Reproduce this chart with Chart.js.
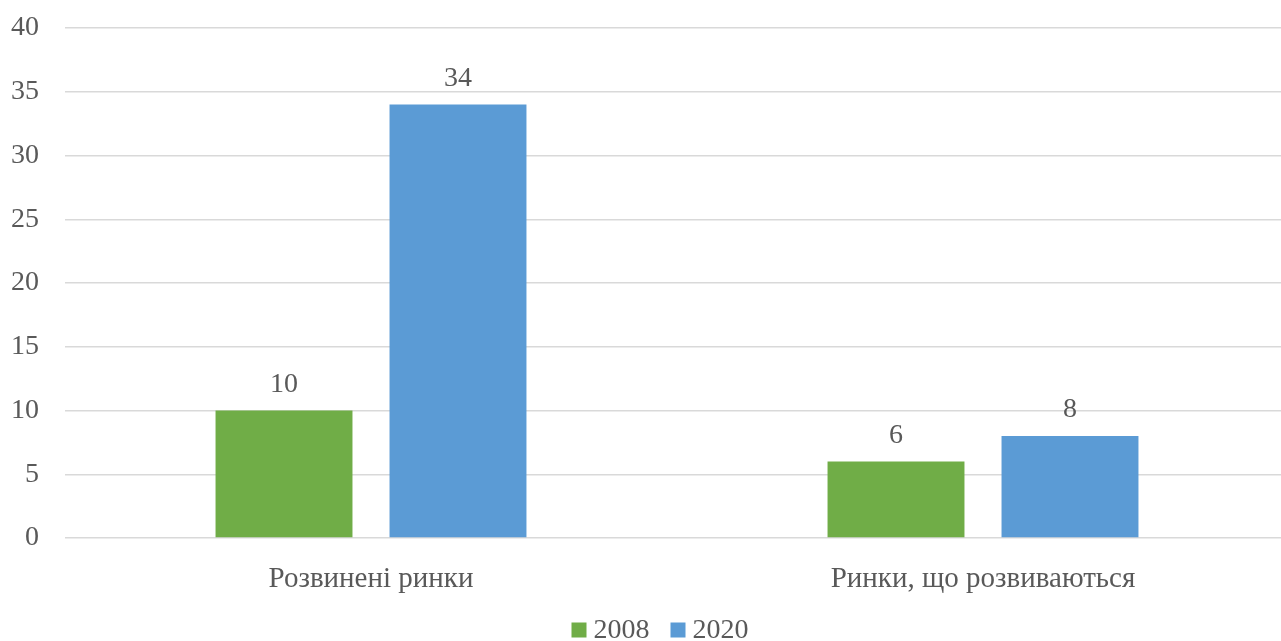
<!DOCTYPE html>
<html><head><meta charset="utf-8">
<script src="https://cdn.jsdelivr.net/npm/chart.js@4"></script>
<style>html,body{margin:0;padding:0;background:#fff;overflow:hidden}#w{width:1289px;height:641px}</style>
</head><body><div id="w"><canvas id="c"></canvas></div>
<script>
const categories = ["Розвинені ринки", "Ринки, що розвиваються"];
const series2008 = [10, 6];
const series2020 = [34, 8];
const seriesNames = ["2008", "2020"];
const yTicks = [0, 5, 10, 15, 20, 25, 30, 35, 40];

const FONT = "'Liberation Serif', 'Times New Roman', serif";
const TXT = '#595959';

const valueLabels = {
  id: 'valueLabels',
  afterDatasetsDraw(chart) {
    const ctx = chart.ctx;
    ctx.save();
    ctx.font = '28px ' + FONT;
    ctx.fillStyle = TXT;
    ctx.textAlign = 'center';
    ctx.textBaseline = 'middle';
    chart.data.datasets.forEach((ds, i) => {
      chart.getDatasetMeta(i).data.forEach((bar, j) => {
        ctx.fillText(String(ds.data[j]), bar.x, bar.y - 26);
      });
    });
    ctx.restore();
  }
};

const bottomLegend = {
  id: 'bottomLegend',
  afterDraw(chart) {
    const ctx = chart.ctx;
    ctx.save();
    ctx.font = '28px ' + FONT;
    ctx.textBaseline = 'middle';
    ctx.textAlign = 'left';
    const box = 15, gap = 7, itemGap = 21;
    const items = chart.data.datasets.map(ds => ({ text: ds.label, color: ds.backgroundColor, w: ctx.measureText(ds.label).width }));
    let total = 0;
    items.forEach((it, i) => { total += box + gap + it.w + (i < items.length - 1 ? itemGap : 0); });
    let x = 660 - total / 2;
    const cy = 630;
    items.forEach(it => {
      ctx.fillStyle = it.color;
      ctx.fillRect(x, cy - box / 2, box, box);
      x += box + gap;
      ctx.fillStyle = TXT;
      ctx.fillText(it.text, x, cy + 1);
      x += it.w + itemGap;
    });
    ctx.restore();
  }
};

new Chart(document.getElementById('c'), {
  type: 'bar',
  data: {
    labels: categories,
    datasets: [
      { label: seriesNames[0], data: series2008, backgroundColor: '#70AD47' },
      { label: seriesNames[1], data: series2020, backgroundColor: '#5B9BD5' }
    ]
  },
  options: {
    responsive: true,
    maintainAspectRatio: false,
    animation: false,
    devicePixelRatio: 1,
    layout: { padding: { top: 28, right: 0, left: 0, bottom: 45 } },
    datasets: { bar: { categoryPercentage: 0.5686, barPercentage: 0.787 } },
    scales: {
      x: {
        afterFit(axis) { axis.height = 58; axis.paddingLeft = 0; axis.paddingRight = 0; },
        grid: { display: false, drawTicks: false },
        border: { display: false },
        ticks: { color: TXT, font: { family: FONT, size: 29 }, padding: 24 }
      },
      y: {
        min: 0, max: 40,
        afterBuildTicks(axis) { axis.ticks = yTicks.map(v => ({ value: v })); },
        afterFit(axis) { axis.width = 65; axis.paddingTop = 0; axis.paddingBottom = 0; },
        grid: { color: '#D9D9D9', lineWidth: 1.5, drawTicks: false },
        border: { display: false },
        ticks: { color: TXT, font: { family: FONT, size: 28 }, padding: 26 }
      }
    },
    plugins: {
      legend: { display: false },
      tooltip: { enabled: false }
    }
  },
  plugins: [valueLabels, bottomLegend]
});
</script></body></html>
